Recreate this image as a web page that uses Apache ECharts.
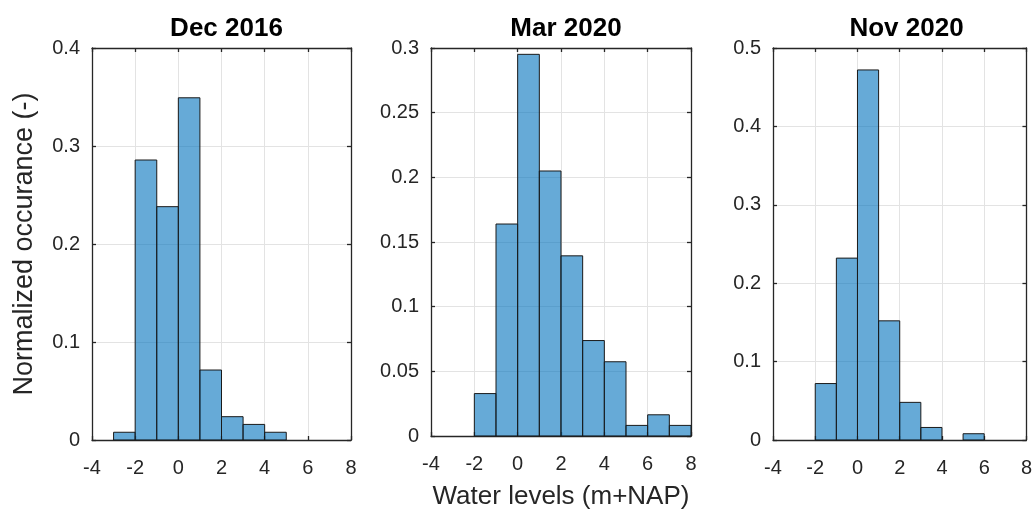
<!DOCTYPE html>
<html>
<head>
<meta charset="utf-8">
<script src="https://cdn.jsdelivr.net/npm/echarts@6/dist/echarts.min.js"></script>
<style>
html,body{margin:0;padding:0;background:#fff;}
#chart{width:1035px;height:515px;}
</style>
</head>
<body>
<div id="chart"></div>
<script>
// ---- data ----
const titles = ['Dec 2016', 'Mar 2020', 'Nov 2020'];
const binStarts1 = [-3, -2, -1, 0, 1, 2, 3, 4];
const values1 = [0.0079, 0.2857, 0.2381, 0.3492, 0.0714, 0.0238, 0.0159, 0.0079];
const binStarts2 = [-2, -1, 0, 1, 2, 3, 4, 5, 6, 7];
const values2 = [0.0328, 0.1639, 0.2951, 0.2049, 0.1393, 0.0738, 0.0574, 0.0082, 0.0164, 0.0082];
const binStarts3 = [-2, -1, 0, 1, 2, 3, 4, 5];
const values3 = [0.072, 0.232, 0.472, 0.152, 0.048, 0.016, 0, 0.008];
const binWidth = 1;
const xTicks = [-4, -2, 0, 2, 4, 6, 8];
const yMax = [0.4, 0.3, 0.5];
const yStep = [0.1, 0.05, 0.1];
const yLabel = 'Normalized occurance (-)';
const xLabel = 'Water levels (m+NAP)';

(function () {
const panels = [
  {starts: binStarts1, vals: values1},
  {starts: binStarts2, vals: values2},
  {starts: binStarts3, vals: values3}
];

const gridPos = [
  {left: 92, width: 259},
  {left: 431, width: 260},
  {left: 773, width: 257}
];
const gTop = 48, gHeight = 392;
const font = '"Liberation Sans", Arial, Helvetica, sans-serif';
const axisColor = '#262626';

const grids = [], xAxes = [], yAxes = [], series = [], titleArr = [];
panels.forEach((p, i) => {
  grids.push({left: gridPos[i].left, width: gridPos[i].width, top: gTop, height: gHeight, containLabel: false});
  titleArr.push({
    text: titles[i],
    left: gridPos[i].left + gridPos[i].width / 2,
    top: 11,
    textAlign: 'center',
    textStyle: {fontFamily: font, fontWeight: 'bold', fontSize: 26, color: '#000'}
  });
  xAxes.push({
    type: 'value', gridIndex: i, min: xTicks[0], max: xTicks[xTicks.length - 1], interval: 2,
    position: 'bottom',
    axisLine: {show: true, onZero: false, lineStyle: {color: axisColor, width: 1.3}},
    axisTick: {show: true, inside: true, length: 4, lineStyle: {color: axisColor, width: 1.3}},
    axisLabel: {fontFamily: font, fontSize: 20, color: axisColor, margin: 18},
    splitLine: {show: true, lineStyle: {color: '#e3e3e3', width: 1}},
    name: i === 1 ? xLabel : '',
    nameLocation: 'middle', nameGap: 48,
    nameTextStyle: {fontFamily: font, fontSize: 26, color: axisColor}
  });
  xAxes.push({
    type: 'value', gridIndex: i, min: xTicks[0], max: xTicks[xTicks.length - 1], interval: 2,
    position: 'top',
    axisLine: {show: true, onZero: false, lineStyle: {color: axisColor, width: 1.3}},
    axisTick: {show: true, inside: true, length: 4, lineStyle: {color: axisColor, width: 1.3}},
    axisLabel: {show: false},
    splitLine: {show: false}
  });
  yAxes.push({
    type: 'value', gridIndex: i, min: 0, max: yMax[i], interval: yStep[i],
    position: 'left',
    axisLine: {show: true, onZero: false, lineStyle: {color: axisColor, width: 1.3}},
    axisTick: {show: true, inside: true, length: 4, lineStyle: {color: axisColor, width: 1.3}},
    axisLabel: {fontFamily: font, fontSize: 20, color: axisColor, margin: 12,
      formatter: v => String(Math.round(v * 1000) / 1000)},
    splitLine: {show: true, lineStyle: {color: '#e3e3e3', width: 1}},
    name: i === 0 ? yLabel : '',
    nameLocation: 'middle', nameGap: 54,
    nameTextStyle: {fontFamily: font, fontSize: 27, color: axisColor}
  });
  yAxes.push({
    type: 'value', gridIndex: i, min: 0, max: yMax[i], interval: yStep[i],
    position: 'right',
    axisLine: {show: true, onZero: false, lineStyle: {color: axisColor, width: 1.3}},
    axisTick: {show: true, inside: true, length: 4, lineStyle: {color: axisColor, width: 1.3}},
    axisLabel: {show: false},
    splitLine: {show: false}
  });
  const data = p.starts.map((s, k) => [s, s + binWidth, p.vals[k]]);
  series.push({
    type: 'custom',
    xAxisIndex: i * 2, yAxisIndex: i * 2,
    data: data,
    silent: true,
    z: 1,
    encode: {x: [0, 1], y: 2},
    renderItem: function (params, api) {
      const v = api.value(2);
      if (!(v > 0)) return null;
      const p0 = api.coord([api.value(0), 0]);
      const p1 = api.coord([api.value(1), v]);
      return {
        type: 'rect',
        shape: {x: p0[0], y: p1[1], width: p1[0] - p0[0], height: p0[1] - p1[1]},
        style: {fill: 'rgba(0,114,189,0.6)', stroke: '#1a1a1a', lineWidth: 1}
      };
    }
  });
});

const chart = echarts.init(document.getElementById('chart'), null, {renderer: 'canvas'});
chart.setOption({
  backgroundColor: '#fff',
  animation: false,
  title: titleArr,
  grid: grids,
  xAxis: xAxes,
  yAxis: yAxes,
  series: series
});
})();
</script>
</body>
</html>
